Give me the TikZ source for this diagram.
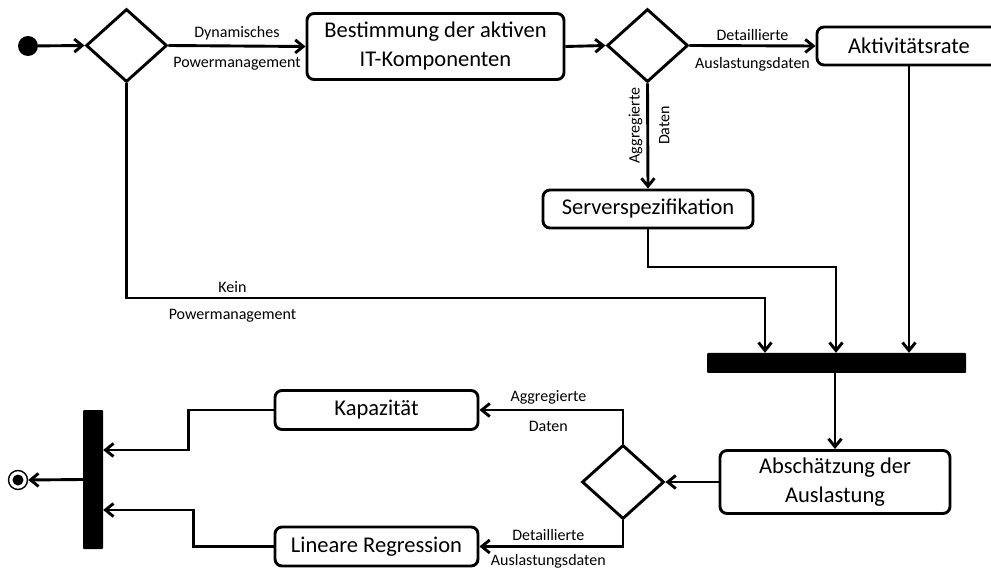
\documentclass[tikz,border=0pt]{standalone}
\usepackage{fontspec}
\setmainfont{Carlito}
\usetikzlibrary{arrows.meta,shapes.geometric}

\begin{document}
\begin{tikzpicture}[x=1pt, y=-1pt,
  >={Straight Barb[length=8pt,width=13pt]},
  box/.style={
    draw,
    line width=2.9pt,
    rounded corners=7pt,
    align=center,
    font=\fontsize{22.5}{29}\selectfont,
    inner sep=0pt
  },
  decision/.style={
    draw,
    diamond,
    line width=2.9pt,
    inner sep=0pt,
    minimum width=81pt,
    minimum height=73pt
  },
  bar/.style={fill=black, inner sep=0pt, rounded corners=1pt},
  lbl/.style={font=\fontsize{16}{19}\selectfont, inner sep=1pt},
  up/.style={lbl, above=3pt},
  down/.style={lbl, below=9pt},
  arr/.style={->, line width=2.9pt}
]
\useasboundingbox (0,0) rectangle (991,569);

% top row
\node[circle, fill=black, inner sep=0pt, minimum size=20pt] (start) at (28,46) {};
\node[decision] (d1) at (126.5,45.5) {};
\node[box, minimum width=257pt, minimum height=66pt] (act) at (435.5,46.5)
{Bestimmung der aktiven\\IT-Komponenten};
\node[decision] (d2) at (647.5,45.5) {};
\node[box, minimum width=184pt, minimum height=38pt] (rate) at (909,46)
{Aktivitätsrate};
\node[box, minimum width=210pt, minimum height=38pt] (spec) at (648,209)
{Serverspezifikation};

% join and estimation
\node[bar, minimum width=259pt, minimum height=20pt] (join) at (836.5,363) {};
\node[box, minimum width=230pt, minimum height=63pt] (est) at (835,482)
{Abschätzung der\\Auslastung};
\node[decision, minimum width=82pt, minimum height=74pt] (d3) at (623,482) {};

% bottom left
\node[box, minimum width=203pt, minimum height=39pt] (cap) at (376.5,410)
{Kapazität};
\node[box, minimum width=203pt, minimum height=39pt] (reg) at (376.5,546.5)
{Lineare Regression};
\node[bar, minimum width=20pt, minimum height=139pt] (merge) at (93,479.5) {};
\node[circle, draw, line width=1.4pt, inner sep=0pt, minimum size=19pt] (stop) at (18,480) {};
\node[circle, fill=black, inner sep=0pt, minimum size=11pt] (stopdot) at (stop.center) {};

\coordinate (kp) at (765,298);
\coordinate (sp) at (836,267);

\draw[arr] (start) -- (d1.west);
\draw[arr] (d1.east) -- node[up] {Dynamisches}
  node[down] {Powermanagement} (act.west);
\draw[arr] (act.east) -- (d2.west);
\draw[arr] (d2.east) -- node[up] {Detaillierte}
  node[down] {Auslastungsdaten} (rate.west);
\draw[arr] (d2.south) -- node[lbl, inner sep=4pt, rotate=90, anchor=south, pos=0.4] {Aggregierte}
  node[lbl, inner sep=10pt, rotate=90, anchor=north, pos=0.4] {Daten} (spec.north);

\draw[arr] (d1.south) |- node[up, pos=0.583] {Kein}
  node[down, pos=0.583] {Powermanagement} (kp) -- (kp |- join.north);
\draw[arr] (spec.south) |- (sp) -- (sp |- join.north);
\draw[arr] (rate.south) -- (rate.south |- join.north);
\draw[arr] (join.south -| est.north) -- (est.north);

\draw[arr] (est.west) -- (d3.east);
\draw[arr] (d3.north) |- node[up, pos=0.76] {Aggregierte}
  node[down, pos=0.76] {Daten} (cap.east);
\draw[arr] (d3.south) |- node[up, pos=0.76] {Detaillierte}
  node[lbl, below=5pt, pos=0.76] {Auslastungsdaten} (reg.east);

\draw[arr] (cap.west) -- ++(-85,0) |- ([yshift=29.5pt]merge.east);
\draw[arr] (reg.west) -- ++(-80,0) |- ([yshift=-30.5pt]merge.east);
\draw[arr] (merge.west) -- (stop.east);
\end{tikzpicture}
\end{document}
